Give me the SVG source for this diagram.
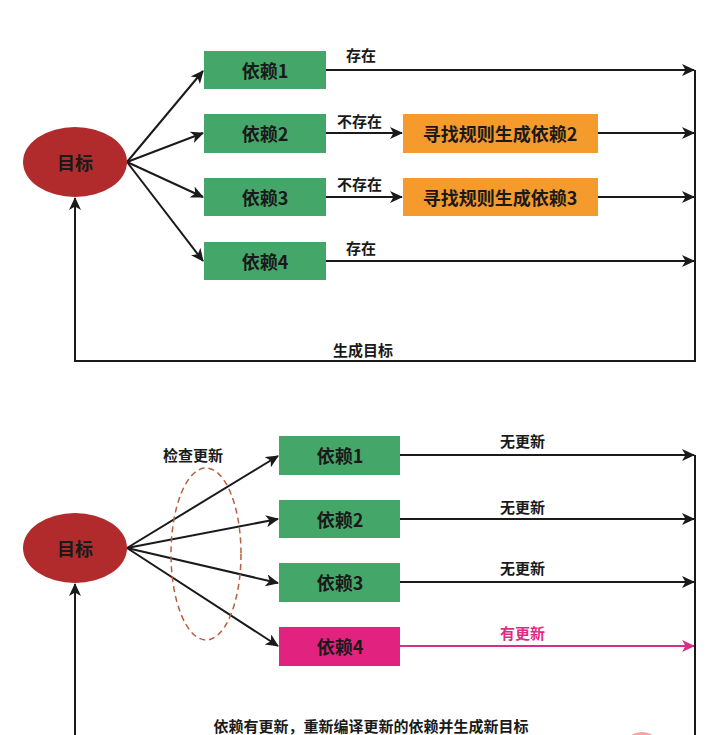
<svg xmlns="http://www.w3.org/2000/svg" width="720" height="735" viewBox="0 0 720 735">
<defs>
<marker id="ah" markerWidth="14" markerHeight="12" refX="12" refY="6" orient="auto" markerUnits="userSpaceOnUse">
<path d="M0,0 L13,6 L0,12 L3.5,6 z" fill="#1a1a1a"/>
</marker>
<marker id="ahm" markerWidth="14" markerHeight="12" refX="12" refY="6" orient="auto" markerUnits="userSpaceOnUse">
<path d="M0,0 L13,6 L0,12 L3.5,6 z" fill="#DD2C86"/>
</marker>
<style>
text{font-family:"Noto Sans CJK SC","Liberation Sans",sans-serif;font-weight:bold;fill:#1a1a1a;}
.node{font-size:18px;text-anchor:middle;dominant-baseline:central;}
.lbl{font-size:15px;}
.green{fill:#45A669;}
.orange{fill:#F59A2C;}
.mag{fill:#E2227F;}
.target{fill:#B12A2C;}
.ln{stroke:#1a1a1a;stroke-width:2;fill:none;}
.lnm{stroke:#DD2C86;stroke-width:2;fill:none;}
</style>
</defs>
<rect width="720" height="735" fill="#ffffff"/>

<!-- connectors -->
<g id="connectors">
<line class="ln" x1="127" y1="162" x2="203" y2="71" marker-end="url(#ah)"/>
<line class="ln" x1="127" y1="162" x2="203" y2="133" marker-end="url(#ah)"/>
<line class="ln" x1="127" y1="162" x2="203" y2="197" marker-end="url(#ah)"/>
<line class="ln" x1="127" y1="162" x2="203" y2="261" marker-end="url(#ah)"/>
<line class="ln" x1="326" y1="70" x2="694" y2="70" marker-end="url(#ah)"/>
<line class="ln" x1="326" y1="133" x2="402" y2="133" marker-end="url(#ah)"/>
<line class="ln" x1="598" y1="133" x2="694" y2="133" marker-end="url(#ah)"/>
<line class="ln" x1="326" y1="197" x2="402" y2="197" marker-end="url(#ah)"/>
<line class="ln" x1="598" y1="197" x2="694" y2="197" marker-end="url(#ah)"/>
<line class="ln" x1="326" y1="261" x2="694" y2="261" marker-end="url(#ah)"/>
<polyline class="ln" points="695,70 695,361 75,361 75,198" marker-end="url(#ah)"/>
<line class="ln" x1="127" y1="548" x2="278" y2="456" marker-end="url(#ah)"/>
<line class="ln" x1="127" y1="548" x2="278" y2="519" marker-end="url(#ah)"/>
<line class="ln" x1="127" y1="548" x2="278" y2="583" marker-end="url(#ah)"/>
<line class="ln" x1="127" y1="548" x2="278" y2="646" marker-end="url(#ah)"/>
<line class="ln" x1="400" y1="455" x2="694" y2="455" marker-end="url(#ah)"/>
<line class="ln" x1="400" y1="519" x2="694" y2="519" marker-end="url(#ah)"/>
<line class="ln" x1="400" y1="582" x2="694" y2="582" marker-end="url(#ah)"/>
<line class="lnm" x1="400" y1="646" x2="694" y2="646" marker-end="url(#ahm)"/>
<line class="ln" x1="695" y1="455" x2="695" y2="740"/>
<line class="ln" x1="75" y1="740" x2="75" y2="584" marker-end="url(#ah)"/>
<ellipse cx="206" cy="554" rx="35" ry="86" fill="none" stroke="#B8603F" stroke-width="1.5" stroke-dasharray="6,4"/>
</g>

<!-- labels -->
<g id="labels">
<text class="lbl" x="346" y="61">存在</text>
<text class="lbl" x="337" y="127">不存在</text>
<text class="lbl" x="337" y="190">不存在</text>
<text class="lbl" x="346" y="254">存在</text>
<text class="lbl" x="333" y="356">生成目标</text>
<text class="lbl" x="163" y="461">检查更新</text>
<text class="lbl" x="500" y="447">无更新</text>
<text class="lbl" x="500" y="513">无更新</text>
<text class="lbl" x="500" y="574">无更新</text>
<text class="lbl" x="500" y="639" style="fill:#DD2C86">有更新</text>
<text class="lbl" x="371" y="732" style="text-anchor:middle">依赖有更新，重新编译更新的依赖并生成新目标</text>
</g>

<!-- top nodes -->
<g id="target-top">
<ellipse class="target" cx="75" cy="162" rx="52" ry="35"/>
<text class="node" x="75" y="162">目标</text>
</g>
<g id="dep1-top"><rect class="green" x="204" y="51" width="122" height="38"/><text class="node" x="265" y="70">依赖1</text></g>
<g id="dep2-top"><rect class="green" x="204" y="114" width="122" height="39"/><text class="node" x="265" y="133">依赖2</text></g>
<g id="dep3-top"><rect class="green" x="204" y="178" width="122" height="38"/><text class="node" x="265" y="197">依赖3</text></g>
<g id="dep4-top"><rect class="green" x="204" y="242" width="122" height="38"/><text class="node" x="265" y="261">依赖4</text></g>
<g id="gen2"><rect class="orange" x="403" y="114" width="195" height="39"/><text class="node" x="500" y="133">寻找规则生成依赖2</text></g>
<g id="gen3"><rect class="orange" x="403" y="178" width="195" height="38"/><text class="node" x="500" y="197">寻找规则生成依赖3</text></g>

<!-- bottom nodes -->
<g id="target-bottom">
<ellipse class="target" cx="75" cy="548" rx="52" ry="35"/>
<text class="node" x="75" y="548">目标</text>
</g>
<g id="dep1-bottom"><rect class="green" x="279" y="436" width="121" height="39"/><text class="node" x="340" y="455">依赖1</text></g>
<g id="dep2-bottom"><rect class="green" x="279" y="500" width="121" height="38"/><text class="node" x="340" y="519">依赖2</text></g>
<g id="dep3-bottom"><rect class="green" x="279" y="563" width="121" height="39"/><text class="node" x="340" y="582">依赖3</text></g>
<g id="dep4-bottom"><rect class="mag" x="279" y="627" width="121" height="39"/><text class="node" x="340" y="646">依赖4</text></g>

<circle cx="642" cy="752" r="20" fill="#FBA3A3"/>
</svg>
